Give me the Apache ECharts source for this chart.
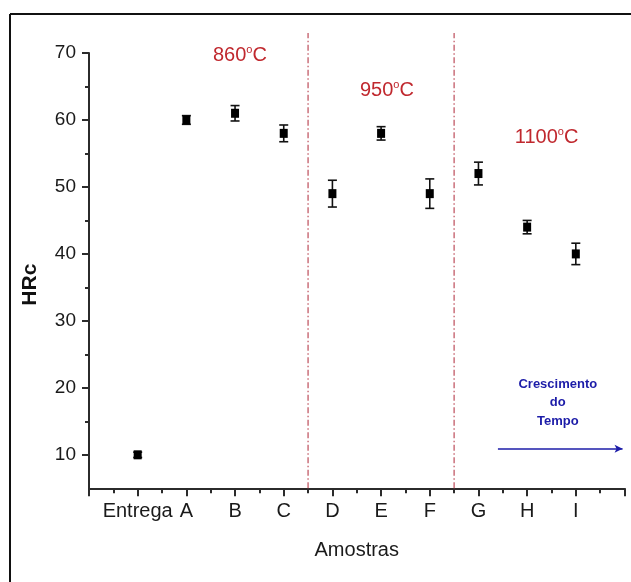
<!DOCTYPE html>
<html>
<head>
<meta charset="utf-8">
<script src="https://cdn.jsdelivr.net/npm/echarts@6/dist/echarts.min.js"></script>
<style>
  html, body { margin: 0; padding: 0; background: #fff; }
  #chart { width: 631px; height: 582px; }
</style>
</head>
<body>
<div id="chart"></div>
<script>
// amostras (eixo x) e dureza HRc
const categories = ['Entrega', 'A', 'B', 'C', 'D', 'E', 'F', 'G', 'H', 'I']
const hardness = [10, 60, 61, 58, 49, 58, 49, 52, 44, 40]
const errors = [0.4, 0.65, 1.15, 1.25, 2.0, 1.0, 2.2, 1.7, 1.0, 1.6]
const yTicks = [10, 20, 30, 40, 50, 60, 70]
const yMinorTicks = [15, 25, 35, 45, 55, 65]
const temperatures = ['860', '950', '1100']
const dividers = [4.5, 7.5]

const font = 'Liberation Sans, Arial, sans-serif'
const axisColor = '#2b2b2b'
const red = '#c0282e'
const blue = '#1c1ca8'

const points = hardness.map((v, i) => [i + 1, v, errors[i]])

// posicao dos rotulos de temperatura (coordenadas do grafico)
const tempPos = [[3.1, 69.6], [6.12, 64.4], [9.4, 57.4]]

const chart = echarts.init(document.getElementById('chart'))

const options = {
  backgroundColor: '#fff',
  animation: false,
  grid: { left: 89, right: 6.5, top: 53, bottom: 93.7 },
  xAxis: {
    type: 'value',
    min: 0,
    max: 11,
    interval: 1,
    name: 'Amostras',
    nameLocation: 'middle',
    nameGap: 52,
    nameTextStyle: { fontFamily: font, fontSize: 20, color: '#1a1a1a' },
    axisLine: { onZero: false, lineStyle: { color: axisColor, width: 2 } },
    axisTick: { length: 8, lineStyle: { color: axisColor, width: 2 } },
    minorTick: { show: true, splitNumber: 2, length: 5, lineStyle: { color: axisColor, width: 2 } },
    splitLine: { show: false },
    axisLabel: {
      customValues: categories.map((c, i) => i + 1),
      formatter: v => categories[v - 1] || '',
      margin: 13,
      fontFamily: font,
      fontSize: 20,
      color: '#1a1a1a'
    }
  },
  yAxis: [
    {
      type: 'value',
      min: 5,
      max: 70,
      name: 'HRc',
      nameLocation: 'middle',
      nameGap: 48,
      nameRotate: 90,
      nameTextStyle: { fontFamily: font, fontSize: 21, fontWeight: 'bold', color: '#111', padding: [0, 28, 0, 0] },
      axisLine: { lineStyle: { color: axisColor, width: 2 } },
      axisTick: { customValues: yTicks, length: 7, lineStyle: { color: axisColor, width: 2 } },
      splitLine: { show: false },
      axisLabel: {
        customValues: yTicks,
        margin: 13,
        fontFamily: font,
        fontSize: 19,
        color: '#1a1a1a'
      }
    },
    {
      type: 'value',
      min: 5,
      max: 70,
      position: 'left',
      axisLine: { show: false },
      axisTick: { customValues: yMinorTicks, length: 4, lineStyle: { color: axisColor, width: 2 } },
      axisLabel: { show: false },
      splitLine: { show: false }
    }
  ],
  graphic: [
    { type: 'line', shape: { x1: 10, y1: 14, x2: 631, y2: 14 }, style: { stroke: '#111', lineWidth: 2 } },
    { type: 'line', shape: { x1: 10, y1: 14, x2: 10, y2: 582 }, style: { stroke: '#111', lineWidth: 2 } }
  ],
  series: [
    ...dividers.map(x => ({
      type: 'line',
      data: [[x, 5], [x, 73]],
      clip: false,
      symbol: 'none',
      silent: true,
      lineStyle: { color: '#c25a66', width: 1.3, type: [6, 2.5, 1.5, 2.5] }
    })),
    {
      type: 'custom',
      data: points,
      renderItem: (params, api) => {
        const x = api.value(0)
        const y = api.value(1)
        const e = api.value(2)
        const top = api.coord([x, y + e])
        const bot = api.coord([x, y - e])
        const hw = 4.5
        const style = { stroke: '#111', lineWidth: 1.6, fill: null }
        return {
          type: 'group',
          children: [
            { type: 'line', shape: { x1: top[0], y1: top[1], x2: bot[0], y2: bot[1] }, style },
            { type: 'line', shape: { x1: top[0] - hw, y1: top[1], x2: top[0] + hw, y2: top[1] }, style },
            { type: 'line', shape: { x1: bot[0] - hw, y1: bot[1], x2: bot[0] + hw, y2: bot[1] }, style }
          ]
        }
      },
      z: 3
    },
    {
      type: 'scatter',
      data: points.map(p => [p[0], p[1]]),
      symbol: 'rect',
      symbolSize: [8, 9],
      itemStyle: { color: '#000', opacity: 1 },
      z: 4
    },
    {
      type: 'scatter',
      data: tempPos,
      symbolSize: 0,
      silent: true,
      itemStyle: { opacity: 1 },
      label: {
        show: true,
        position: 'inside',
        formatter: p => '{n|' + temperatures[p.dataIndex] + '}{s|o}{n|C}',
        rich: {
          n: { fontFamily: font, fontSize: 20, color: red, lineHeight: 22 },
          s: { fontFamily: font, fontSize: 11, color: red, lineHeight: 22, verticalAlign: 'top', padding: [0, 0, 8, 0] }
        }
      }
    },
    {
      type: 'scatter',
      data: [[9.63, 17.8]],
      symbolSize: 0,
      silent: true,
      itemStyle: { opacity: 1 },
      label: {
        show: true,
        position: 'inside',
        formatter: 'Crescimento\ndo\nTempo',
        fontFamily: font,
        fontSize: 13,
        fontWeight: 'bold',
        lineHeight: 18.5,
        color: blue,
        align: 'center'
      },
      markLine: {
        silent: true,
        symbol: ['none', 'arrow'],
        symbolSize: [6, 8],
        label: { show: false },
        lineStyle: { color: blue, width: 1.5, type: 'solid', opacity: 1 },
        data: [[{ coord: [8.4, 10.9] }, { coord: [10.96, 10.9] }]]
      }
    }
  ]
}

chart.setOption(options)
</script>
</body>
</html>
